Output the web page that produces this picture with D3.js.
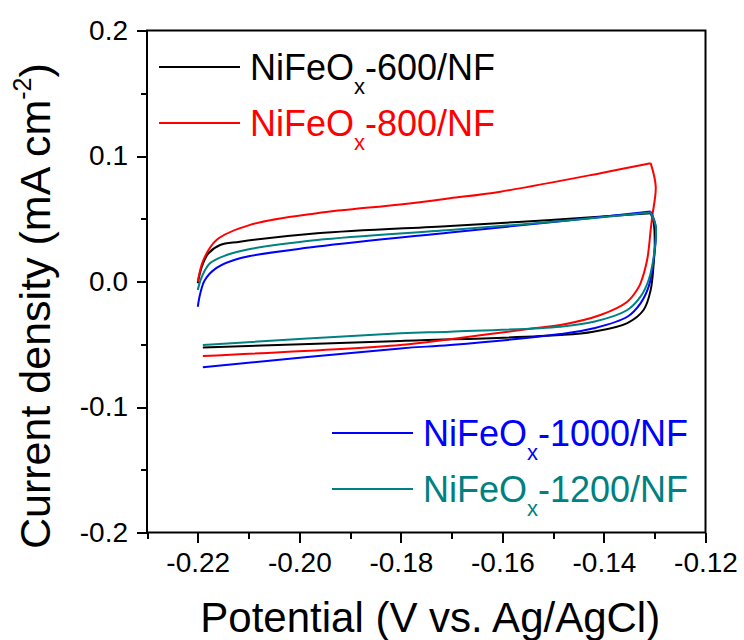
<!DOCTYPE html>
<html lang="en">
<head>
<meta charset="utf-8">
<title>CV curves NiFeOx/NF</title>
<script src="https://cdn.jsdelivr.net/npm/d3@7"></script>
<style>
  body { margin: 0; background: #fff; }
  svg text { font-family: "Liberation Sans", Arial, sans-serif; }
  .axis path { display: none; }
  .axis line { stroke: #000; stroke-width: 2px; shape-rendering: crispEdges; }
  .axis text { font-size: 28px; fill: #000; font-family: "Liberation Sans", Arial, sans-serif; }
</style>
</head>
<body>
<script>
// potential (V vs Ag/AgCl), current density (mA cm-2), in scan order
var cv600 = [[-0.2200,-0.0014],[-0.2192,0.0118],[-0.2179,0.0225],[-0.2156,0.0291],[-0.2117,0.0317],
  [-0.1965,0.0384],[-0.1703,0.0443],[-0.1505,0.0490],[-0.1308,0.0544],
  [-0.1302,0.0467],[-0.1300,0.0290],[-0.1302,0.0148],[-0.1308,-0.0068],[-0.1322,-0.0227],
  [-0.1354,-0.0331],[-0.1421,-0.0400],[-0.1486,-0.0427],[-0.1801,-0.0474],[-0.2190,-0.0525]];
var cv800 = [[-0.2200,-0.0002],[-0.2189,0.0171],[-0.2163,0.0331],[-0.2097,0.0451],[-0.1965,0.0544],
  [-0.1801,0.0614],[-0.1703,0.0663],[-0.1604,0.0716],[-0.1407,0.0863],[-0.1308,0.0943],
  [-0.1298,0.0756],[-0.1305,0.0517],[-0.1308,0.0411],[-0.1315,0.0171],[-0.1328,-0.0014],
  [-0.1335,-0.0068],[-0.1354,-0.0161],[-0.1407,-0.0267],[-0.1486,-0.0347],[-0.1538,-0.0373],
  [-0.1703,-0.0460],[-0.1801,-0.0506],[-0.2190,-0.0594]];
var cv1000 = [[-0.2200,-0.0201],[-0.2195,-0.0094],[-0.2186,0.0012],[-0.2163,0.0108],[-0.2117,0.0185],
  [-0.1965,0.0278],[-0.1703,0.0391],[-0.1505,0.0472],[-0.1308,0.0557],
  [-0.1298,0.0437],[-0.1303,0.0145],[-0.1312,-0.0041],[-0.1328,-0.0174],[-0.1354,-0.0281],
  [-0.1420,-0.0373],[-0.1486,-0.0419],[-0.1703,-0.0506],[-0.1801,-0.0533],[-0.2190,-0.0684]];
var cv1200 = [[-0.2200,-0.0068],[-0.2192,0.0038],[-0.2176,0.0145],[-0.2143,0.0211],[-0.2097,0.0259],
  [-0.1965,0.0331],[-0.1703,0.0411],[-0.1505,0.0474],[-0.1308,0.0550],
  [-0.1298,0.0437],[-0.1302,0.0198],[-0.1312,0.0012],[-0.1328,-0.0121],[-0.1354,-0.0227],
  [-0.1420,-0.0321],[-0.1486,-0.0360],[-0.1703,-0.0400],[-0.1801,-0.0413],[-0.2190,-0.0506]];

var seriesData = [cv600, cv800, cv1000, cv1200];
var seriesNames = ["600", "800", "1000", "1200"];
var seriesColors = ["#000000", "#ff0000", "#0000ff", "#008080"];

var xTicks = [-0.22, -0.20, -0.18, -0.16, -0.14, -0.12];
var xMinor = [-0.23, -0.21, -0.19, -0.17, -0.15, -0.13];
var yTicks = [-0.2, -0.1, 0.0, 0.1, 0.2];
var yMinor = [-0.15, -0.05, 0.05, 0.15];

var w = 744, h = 640;
var padL = 147, padR = 705.5, padT = 30.5, padB = 532.5;

var svg = d3.select("body").append("svg")
  .attr("width", w)
  .attr("height", h);

var xScale = d3.scaleLinear().domain([-0.23, -0.12]).range([padL, padR]);
var yScale = d3.scaleLinear().domain([-0.2, 0.2]).range([padB, padT]);

// plain hyphen instead of unicode minus
function fmt(p) {
  var f = d3.format("." + p + "f");
  return function(d) { return f(d).replace("\u2212", "-"); };
}

// curves: forward and reverse scans drawn separately so the turning point stays sharp
var line = d3.line()
  .x(function(d) { return xScale(d[0]); })
  .y(function(d) { return yScale(d[1]); })
  .curve(d3.curveCatmullRom.alpha(0.5));

var pieces = [];
seriesData.forEach(function(s, i) {
  var k = d3.maxIndex(s, function(d) { return d[1]; });
  pieces.push({ pts: s.slice(0, k + 1), c: seriesColors[i] });
  pieces.push({ pts: s.slice(k), c: seriesColors[i] });
});

svg.selectAll("path.cv")
  .data(pieces)
  .enter()
  .append("path")
  .attr("class", "cv")
  .attr("d", function(d) { return line(d.pts); })
  .attr("fill", "none")
  .attr("stroke", function(d) { return d.c; })
  .attr("stroke-width", 2)
  .attr("stroke-linejoin", "miter");

// axes
var xAxis = d3.axisBottom(xScale).tickValues(xTicks).tickSizeInner(10).tickSizeOuter(0)
  .tickPadding(10).tickFormat(fmt(2));
var xAxisMinor = d3.axisBottom(xScale).tickValues(xMinor).tickSizeInner(6).tickSizeOuter(0).tickFormat("");
var yAxis = d3.axisLeft(yScale).tickValues(yTicks).tickSizeInner(10).tickSizeOuter(0)
  .tickPadding(9).tickFormat(fmt(1));
var yAxisMinor = d3.axisLeft(yScale).tickValues(yMinor).tickSizeInner(6).tickSizeOuter(0).tickFormat("");

svg.append("g").attr("class", "axis").attr("transform", "translate(0," + padB + ")").call(xAxis);
svg.append("g").attr("class", "axis").attr("transform", "translate(0," + padB + ")").call(xAxisMinor);
svg.append("g").attr("class", "axis").attr("transform", "translate(" + padL + ",0)").call(yAxis);
svg.append("g").attr("class", "axis").attr("transform", "translate(" + padL + ",0)").call(yAxisMinor);

svg.append("rect")
  .attr("x", padL).attr("y", padT)
  .attr("width", padR - padL).attr("height", padB - padT)
  .attr("fill", "none")
  .attr("stroke", "#000")
  .attr("stroke-width", 2);

// axis titles
svg.append("text")
  .attr("x", (padL + padR) / 2 + 4)
  .attr("y", 632)
  .attr("text-anchor", "middle")
  .attr("font-size", "42px")
  .text("Potential (V vs. Ag/AgCl)");

var yt = svg.append("text")
  .attr("transform", "translate(50,549) rotate(-90)")
  .attr("font-size", "43px");
yt.append("tspan").text("Current density (mA cm");
yt.append("tspan").attr("font-size", "25px").attr("dy", -19).text("-2");
yt.append("tspan").attr("dy", 19).text(")");

// legend
var legX = [159, 159, 332, 332];
var legY = [67, 123, 433, 489];
var legLen = [81, 81, 81, 81];

var leg = svg.selectAll("g.legend")
  .data(seriesNames)
  .enter()
  .append("g")
  .attr("class", "legend")
  .attr("transform", function(d, i) { return "translate(" + legX[i] + "," + legY[i] + ")"; });

leg.append("line")
  .attr("x1", 0).attr("x2", function(d, i) { return legLen[i]; })
  .attr("y1", 0).attr("y2", 0)
  .attr("stroke", function(d, i) { return seriesColors[i]; })
  .attr("stroke-width", 2);

var lt = leg.append("text")
  .attr("x", function(d, i) { return legLen[i] + 10; })
  .attr("y", 13)
  .attr("font-size", "36px")
  .attr("fill", function(d, i) { return seriesColors[i]; });
lt.append("tspan").text("NiFeO");
lt.append("tspan").attr("font-size", "22px").attr("dy", 14).text("x");
lt.append("tspan").attr("dy", -14).text(function(d) { return "-" + d + "/NF"; });
</script>
</body>
</html>
